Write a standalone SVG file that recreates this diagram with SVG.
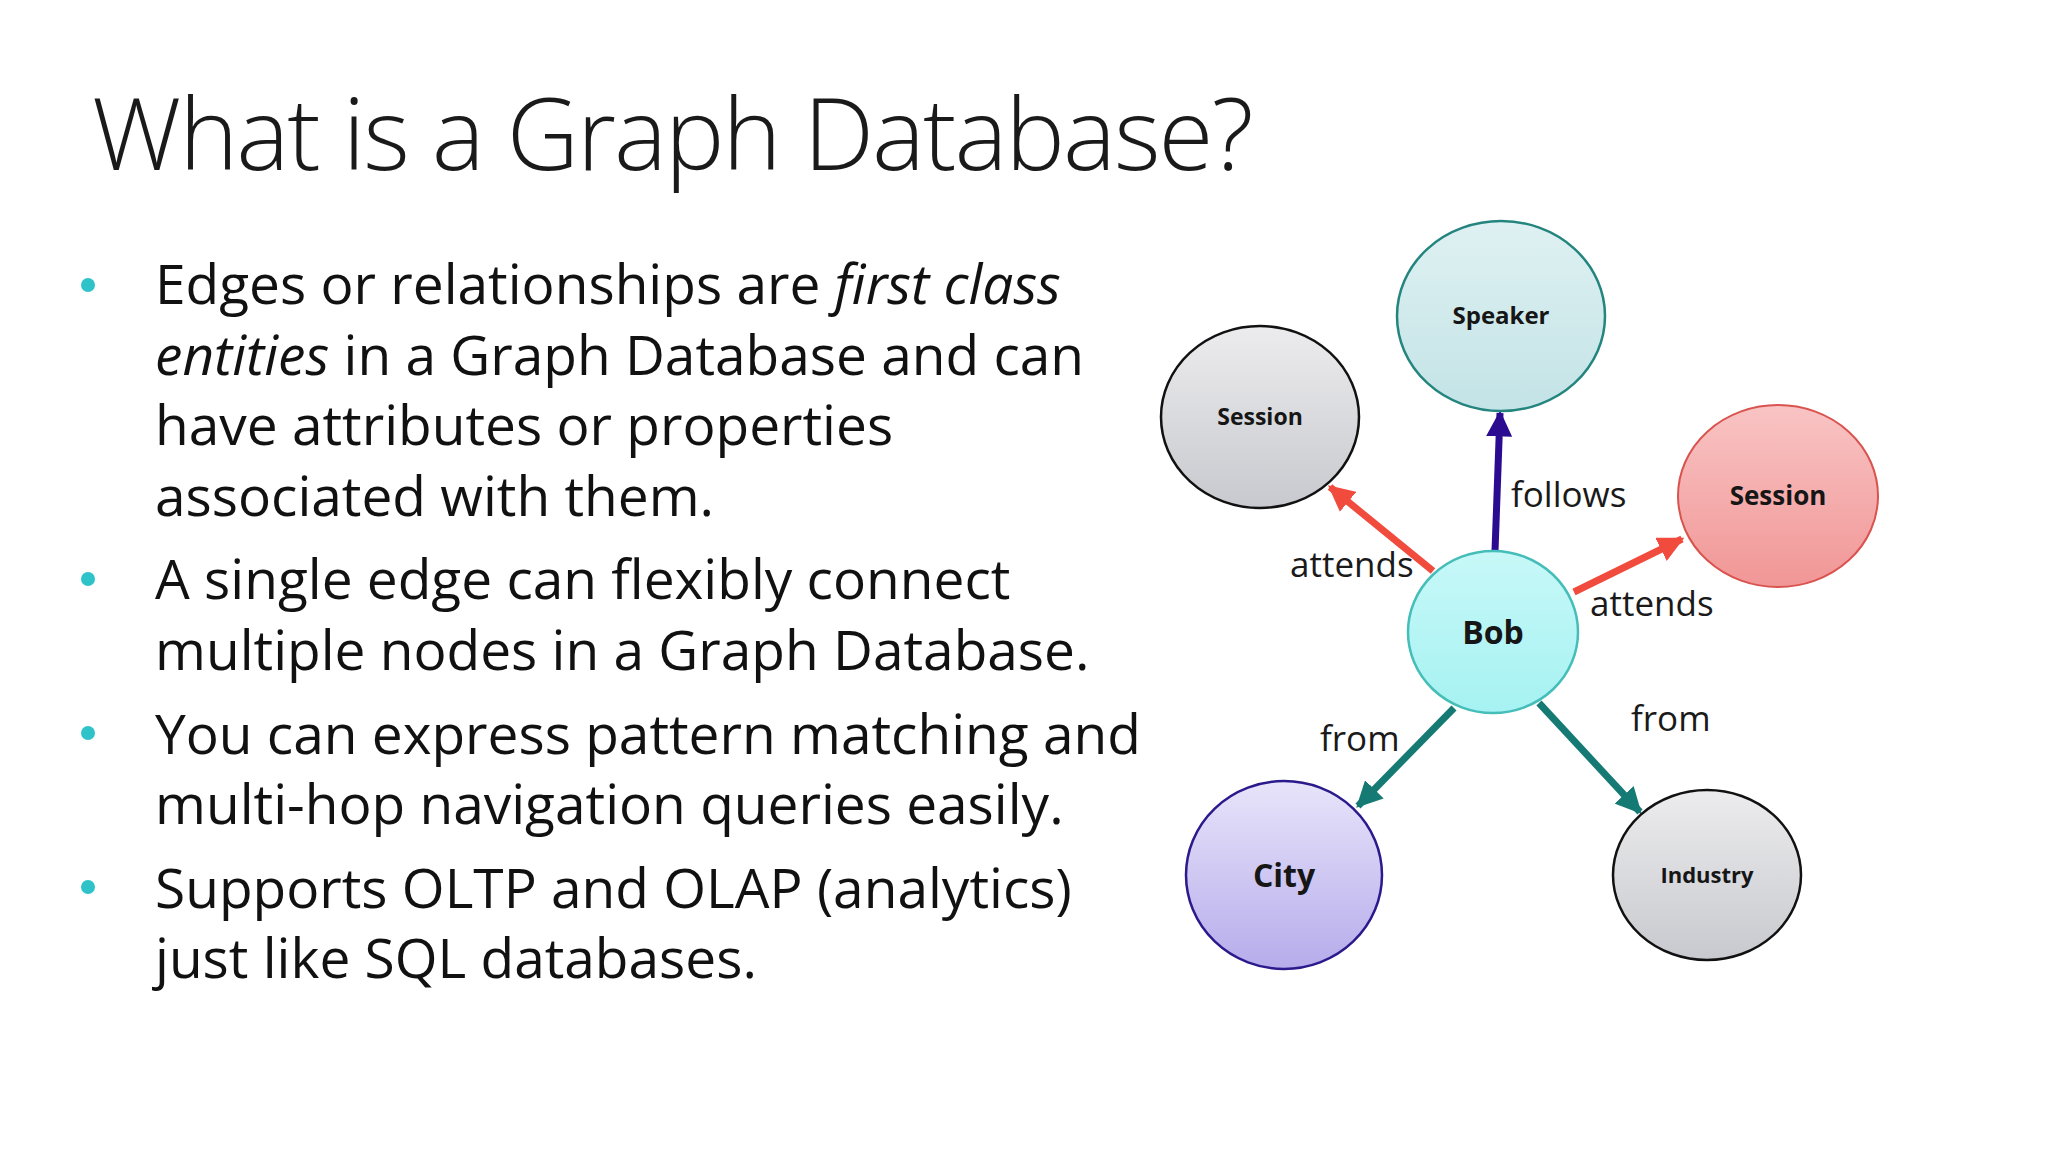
<svg xmlns="http://www.w3.org/2000/svg" width="2048" height="1152" viewBox="0 0 2048 1152">
<defs>
<style>
.title{font-family:"Open Sans","Noto Sans","Liberation Sans",sans-serif;font-weight:300;font-size:100px;letter-spacing:-2px;fill:#1a1a1a}
.body{font-family:"Open Sans","Noto Sans","Liberation Sans",sans-serif;font-size:55px;fill:#111}
.bul{fill:#2ec2c9}
.nl{font-family:"Open Sans","Noto Sans","Liberation Sans",sans-serif;font-weight:700;fill:#161616;text-anchor:middle}
.el{font-family:"Open Sans","Noto Sans","Liberation Sans",sans-serif;font-size:35px;fill:#1a1a1a}
.e{fill:none;stroke-width:7}
</style>
<linearGradient id="gGray" x1="0" y1="0" x2="0" y2="1"><stop offset="0" stop-color="#ececee"/><stop offset="1" stop-color="#c8c9ce"/></linearGradient>
<linearGradient id="gTeal" x1="0" y1="0" x2="0" y2="1"><stop offset="0" stop-color="#dff1f2"/><stop offset="1" stop-color="#c3e3e6"/></linearGradient>
<linearGradient id="gRed" x1="0" y1="0" x2="0" y2="1"><stop offset="0" stop-color="#f9c4c4"/><stop offset="1" stop-color="#f19696"/></linearGradient>
<linearGradient id="gCyan" x1="0" y1="0" x2="0" y2="1"><stop offset="0" stop-color="#c8f8f8"/><stop offset="1" stop-color="#a6f2f2"/></linearGradient>
<linearGradient id="gPurp" x1="0" y1="0" x2="0" y2="1"><stop offset="0" stop-color="#e8e4fa"/><stop offset="1" stop-color="#b6aceb"/></linearGradient>
<marker id="aRed" viewBox="0 0 10 10" refX="9" refY="5" markerWidth="26" markerHeight="26" markerUnits="userSpaceOnUse" orient="auto"><path d="M0,0 L10,5 L0,10 z" fill="#f04b3d"/></marker>
<marker id="aPurp" viewBox="0 0 10 10" refX="9" refY="5" markerWidth="26" markerHeight="26" markerUnits="userSpaceOnUse" orient="auto"><path d="M0,0 L10,5 L0,10 z" fill="#2b0c90"/></marker>
<marker id="aTeal" viewBox="0 0 10 10" refX="9" refY="5" markerWidth="26" markerHeight="26" markerUnits="userSpaceOnUse" orient="auto"><path d="M0,0 L10,5 L0,10 z" fill="#157a74"/></marker>
</defs>
<rect width="2048" height="1152" fill="#ffffff"/>
<text class="title" x="92" y="170">What is a Graph Database?</text>
<g id="bullets">
<circle class="bul" cx="88" cy="285" r="7"/>
<circle class="bul" cx="88" cy="579" r="7"/>
<circle class="bul" cx="88" cy="733" r="7"/>
<circle class="bul" cx="88" cy="887" r="7"/>
<text class="body" x="155" y="304">Edges or relationships are <tspan font-style="italic">first class</tspan></text>
<text class="body" x="155" y="375"><tspan font-style="italic">entities</tspan> in a Graph Database and can</text>
<text class="body" x="155" y="445">have attributes or properties</text>
<text class="body" x="155" y="516">associated with them.</text>
<text class="body" x="155" y="599">A single edge can flexibly connect</text>
<text class="body" x="155" y="670">multiple nodes in a Graph Database.</text>
<text class="body" x="155" y="754">You can express pattern matching and</text>
<text class="body" x="155" y="824">multi-hop navigation queries easily.</text>
<text class="body" x="155" y="908">Supports OLTP and OLAP (analytics)</text>
<text class="body" x="155" y="978">just like SQL databases.</text>
</g>
<g id="connectors">
<line class="e" x1="1495" y1="551" x2="1500" y2="413" stroke="#2b0c90" marker-end="url(#aPurp)"/>
<line class="e" x1="1433" y1="571" x2="1330" y2="487" stroke="#f04b3d" marker-end="url(#aRed)"/>
<line class="e" x1="1574" y1="592" x2="1682" y2="539" stroke="#f04b3d" marker-end="url(#aRed)"/>
<line class="e" x1="1454" y1="708" x2="1358" y2="806" stroke="#157a74" marker-end="url(#aTeal)"/>
<line class="e" x1="1539" y1="703" x2="1640" y2="812" stroke="#157a74" marker-end="url(#aTeal)"/>
<text class="el" x="1511" y="507">follows</text>
<text class="el" x="1290" y="577">attends</text>
<text class="el" x="1590" y="616">attends</text>
<text class="el" x="1320" y="751">from</text>
<text class="el" x="1631" y="731">from</text>
</g>
<g id="node-speaker">
<ellipse cx="1501" cy="316" rx="104" ry="95" fill="url(#gTeal)" stroke="#24857f" stroke-width="2.5"/>
<text class="nl" x="1501" y="324" font-size="24">Speaker</text>
</g>
<g id="node-session-left">
<ellipse cx="1260" cy="417" rx="99" ry="91" fill="url(#gGray)" stroke="#111" stroke-width="2.5"/>
<text class="nl" x="1260" y="425" font-size="23">Session</text>
</g>
<g id="node-session-right">
<ellipse cx="1778" cy="496" rx="100" ry="91" fill="url(#gRed)" stroke="#d9534f" stroke-width="2"/>
<text class="nl" x="1778" y="505" font-size="26">Session</text>
</g>
<g id="node-bob">
<ellipse cx="1493" cy="632" rx="85" ry="81" fill="url(#gCyan)" stroke="#45bdb8" stroke-width="2.5"/>
<text class="nl" x="1493" y="644" font-size="32">Bob</text>
</g>
<g id="node-city">
<ellipse cx="1284" cy="875" rx="98" ry="94" fill="url(#gPurp)" stroke="#2a1a8c" stroke-width="2.5"/>
<text class="nl" x="1284" y="887" font-size="32">City</text>
</g>
<g id="node-industry">
<ellipse cx="1707" cy="875" rx="94" ry="85" fill="url(#gGray)" stroke="#111" stroke-width="2.5"/>
<text class="nl" x="1707" y="883" font-size="22">Industry</text>
</g>
</svg>
